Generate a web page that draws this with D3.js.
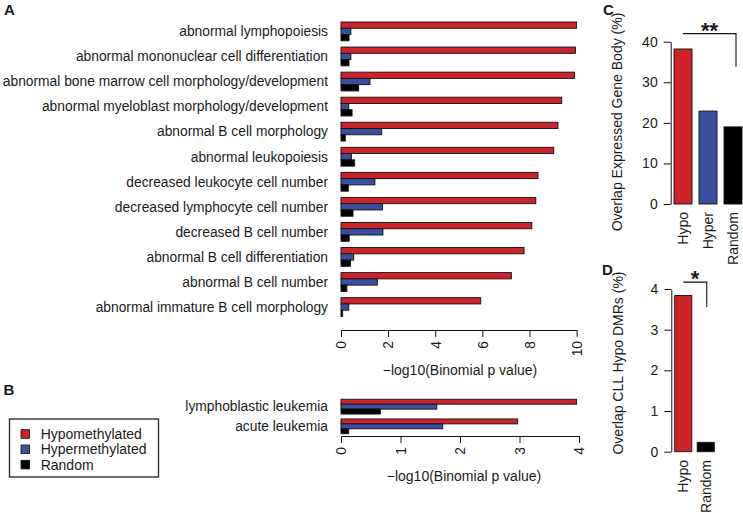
<!DOCTYPE html>
<html>
<head>
<meta charset="utf-8">
<script src="https://cdn.jsdelivr.net/npm/d3@7"></script>
<style>
  body { margin: 0; background: #fff; }
  svg { font-family: "Liberation Sans", Arial, sans-serif; }
  text { fill: #1a1a1a; }
</style>
</head>
<body>
<div id="chart"></div>
<script>
// ---- data ----
var series = ["Hypomethylated", "Hypermethylated", "Random"];
var colors = ["#cc2229", "#3a4f9f", "#000000"];

var termsA = [
  "abnormal lymphopoiesis",
  "abnormal mononuclear cell differentiation",
  "abnormal bone marrow cell morphology/development",
  "abnormal myeloblast morphology/development",
  "abnormal B cell morphology",
  "abnormal leukopoiesis",
  "decreased leukocyte cell number",
  "decreased lymphocyte cell number",
  "decreased B cell number",
  "abnormal B cell differentiation",
  "abnormal B cell number",
  "abnormal immature B cell morphology"
];
var hypoA  = [10.0, 9.95, 9.91, 9.37, 9.21, 9.03, 8.36, 8.27, 8.10, 7.77, 7.23, 5.93];
var hyperA = [0.42, 0.42, 1.23, 0.33, 1.73, 0.44, 1.44, 1.76, 1.78, 0.54, 1.54, 0.33];
var randA  = [0.34, 0.34, 0.75, 0.47, 0.18, 0.58, 0.31, 0.51, 0.35, 0.40, 0.25, 0.07];
var ticksA = [0, 2, 4, 6, 8, 10];

var termsB = ["lymphoblastic leukemia", "acute leukemia"];
var hypoB  = [3.96, 2.97];
var hyperB = [1.61, 1.71];
var randB  = [0.66, 0.13];
var ticksB = [0, 1, 2, 3, 4];

var groupsC = ["Hypo", "Hyper", "Random"];
var valuesC = [38.2, 22.9, 19.0];
var ticksC = [0, 10, 20, 30, 40];

var groupsD = ["Hypo", "Random"];
var valuesD = [3.84, 0.23];
var ticksD = [0, 1, 2, 3, 4];

var svg = d3.select("#chart").append("svg")
  .attr("width", 743).attr("height", 513);

// ---- horizontal grouped bar panel (A and B) ----
function drawHBars(o) {
  var x = d3.scaleLinear().domain(o.domain).range([341, o.xMax]);
  var y = d3.scaleBand().domain(o.terms).range(o.yRange)
    .paddingInner(0.25).paddingOuter(0.125);
  var ys = d3.scaleBand().domain(series).range([0, y.bandwidth()]);
  var vals = [o.hypo, o.hyper, o.rand];

  var g = svg.append("g");
  o.terms.forEach(function (t, i) {
    series.forEach(function (s, j) {
      g.append("rect")
        .attr("x", x(0))
        .attr("y", y(t) + ys(s))
        .attr("width", x(vals[j][i]) - x(0))
        .attr("height", ys.bandwidth())
        .attr("fill", colors[j])
        .attr("stroke", "#111")
        .attr("stroke-width", 0.9);
    });
  });

  // category labels
  g.selectAll(".lab").data(o.terms).enter().append("text")
    .attr("x", 328)
    .attr("y", function (d) { return y(d) + y.bandwidth() / 2; })
    .attr("dy", "0.35em")
    .attr("text-anchor", "end")
    .style("font-size", "13.8px")
    .text(function (d) { return d; });

  // axis (R style)
  var ax = svg.append("g").attr("transform", "translate(0," + o.axisY + ")")
    .call(d3.axisBottom(x).tickValues(o.ticks).tickFormat(d3.format("d"))
      .tickSize(7).tickSizeOuter(0));
  ax.select(".domain").attr("stroke", "#111");
  ax.selectAll(".tick line").attr("stroke", "#111");
  ax.selectAll(".tick text")
    .attr("transform", "rotate(-90)")
    .attr("x", -11).attr("y", 0).attr("dy", "0.35em")
    .attr("text-anchor", "end")
    .style("font-size", "13.8px")
    .style("font-family", "'Liberation Sans', Arial, sans-serif")
    .attr("fill", "#1a1a1a");

  svg.append("text")
    .attr("x", o.titleX).attr("y", o.titleY)
    .attr("text-anchor", "middle")
    .style("font-size", "14px")
    .text("\u2212log10(Binomial p value)");
}

drawHBars({
  terms: termsA, hypo: hypoA, hyper: hyperA, rand: randA, ticks: ticksA,
  domain: [0, 10], xMax: 576.6, yRange: [18.87, 319.6], axisY: 330,
  titleX: 460, titleY: 375
});

drawHBars({
  terms: termsB, hypo: hypoB, hyper: hyperB, rand: randB, ticks: ticksB,
  domain: [0, 4], xMax: 579, yRange: [396.8, 436.2], axisY: 436,
  titleX: 464, titleY: 481
});

// ---- legend ----
var lg = svg.append("g");
lg.append("rect").attr("x", 9.5).attr("y", 419).attr("width", 149).attr("height", 58)
  .attr("fill", "none").attr("stroke", "#333").attr("stroke-width", 1.4);
series.forEach(function (s, i) {
  var cy = 434 + i * 15.3;
  lg.append("rect").attr("x", 21).attr("y", cy - 4.3).attr("width", 8.6).attr("height", 8.6)
    .attr("fill", colors[i]).attr("stroke", "#111").attr("stroke-width", 0.8);
  lg.append("text").attr("x", 40.7).attr("y", cy).attr("dy", "0.35em")
    .style("font-size", "14px").text(s);
});

// ---- vertical bar panel (C and D) ----
function drawVBars(o) {
  var y = d3.scaleLinear().domain(o.domain).range(o.yRange);
  var x = d3.scaleBand().domain(o.groups).range(o.xRange)
    .paddingInner(o.pad).paddingOuter(0);
  var g = svg.append("g");
  g.selectAll("rect").data(o.values).enter().append("rect")
    .attr("x", function (d, i) { return x(o.groups[i]); })
    .attr("y", function (d) { return y(d); })
    .attr("width", x.bandwidth())
    .attr("height", function (d) { return y(0) - y(d); })
    .attr("fill", function (d, i) { return o.fills[i]; })
    .attr("stroke", "#111").attr("stroke-width", 0.9);

  var ax = svg.append("g").attr("transform", "translate(" + o.axisX + ",0)")
    .call(d3.axisLeft(y).tickValues(o.ticks).tickFormat(d3.format("d"))
      .tickSize(7).tickSizeOuter(0));
  ax.select(".domain").attr("stroke", "#111");
  ax.selectAll(".tick line").attr("stroke", "#111");
  ax.selectAll(".tick text")
    .attr("x", -13)
    .style("font-size", "14px")
    .style("font-family", "'Liberation Sans', Arial, sans-serif")
    .attr("fill", "#1a1a1a");

  g.selectAll(".cat").data(o.groups).enter().append("text")
    .attr("transform", function (d) {
      return "translate(" + (x(d) + x.bandwidth() / 2) + "," + o.catY + ") rotate(-90)";
    })
    .attr("dy", "0.35em")
    .attr("text-anchor", "end")
    .style("font-size", "14px")
    .text(function (d) { return d; });

  svg.append("text")
    .attr("transform", "translate(" + o.titleX + "," + o.titleY + ") rotate(-90)")
    .attr("text-anchor", "middle")
    .style("font-size", "14px")
    .text(o.title);

  // significance bracket
  var xa = x(o.groups[0]) + x.bandwidth() / 2;
  var xb = x(o.groups[o.groups.length - 1]) + x.bandwidth() / 2 + o.bracketShift;
  svg.append("path")
    .attr("d", "M" + xa + "," + y(o.bracket[0]) + "H" + xb + "V" + y(o.bracket[1]))
    .attr("fill", "none").attr("stroke", "#111").attr("stroke-width", 1.1);
  svg.append("text")
    .attr("x", (xa + xb) / 2).attr("y", y(o.bracket[0]) + o.starDy)
    .attr("text-anchor", "middle")
    .style("font-size", "22px")
    .style("font-weight", "bold")
    .text(o.stars);
}

drawVBars({
  groups: groupsC, values: valuesC, ticks: ticksC, domain: [0, 40],
  yRange: [204, 41.7], xRange: [674, 742], pad: 0.28, axisX: 670.7,
  fills: colors, catY: 212, titleX: 622, titleY: 122,
  title: "Overlap Expressed Gene Body (%)",
  bracket: [42, 33.8], bracketShift: 3, stars: "**", starDy: 4
});

drawVBars({
  groups: groupsD, values: valuesD, ticks: ticksD, domain: [0, 4],
  yRange: [451.7, 289], xRange: [674.7, 714.3], pad: 0.24, axisX: 671.3,
  fills: [colors[0], colors[2]], catY: 460, titleX: 623.3, titleY: 363,
  title: "Overlap CLL Hypo DMRs (%)",
  bracket: [4.17, 3.56], bracketShift: 1, stars: "*", starDy: 4
});

// ---- panel letters ----
[["A", 4, 15], ["B", 3.5, 395], ["C", 603, 14.5], ["D", 602, 275]].forEach(function (p) {
  svg.append("text").attr("x", p[1]).attr("y", p[2])
    .style("font-size", "15px").style("font-weight", "bold").text(p[0]);
});
</script>
</body>
</html>
